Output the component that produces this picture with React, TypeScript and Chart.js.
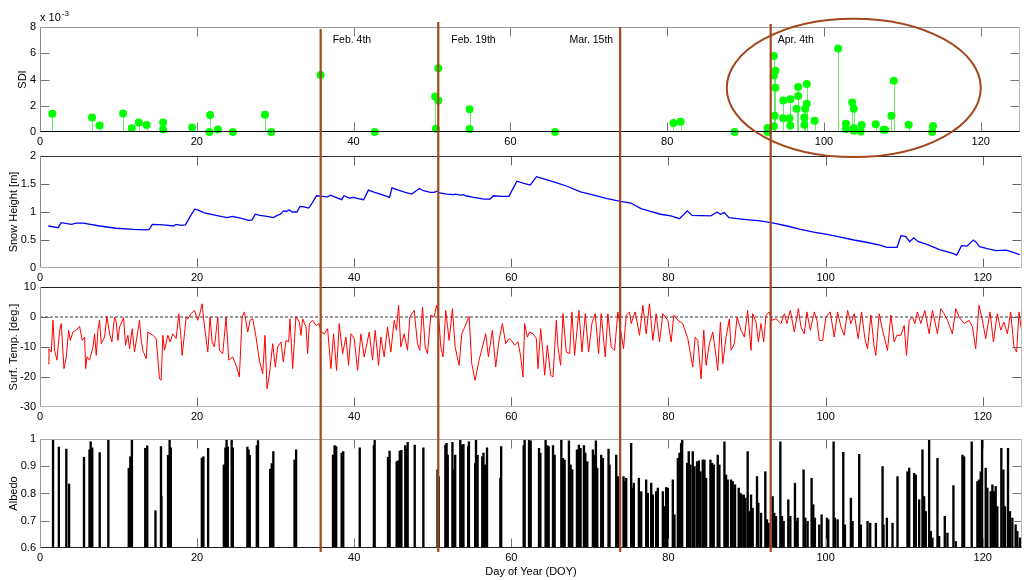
import React, { useEffect, useRef } from 'react';
import { Chart, registerables } from 'chart.js';
Chart.register(...registerables);

const FONT = "'Liberation Sans', Arial, Helvetica, sans-serif";

// ---------- axes ----------
const xTicks = [0, 20, 40, 60, 80, 100, 120];
const xMax = 125;
const sdiTicks = [0, 2, 4, 6, 8];
const snowTicks = [0, 0.5, 1, 1.5, 2];
const tempTicks = [-30, -20, -10, 0, 10];
const albedoTicks = [0.6, 0.7, 0.8, 0.9, 1];

// ---------- events ----------
const eventDays = [35.8, 50.8, 74.0, 93.2];
const eventLabels = ['Feb. 4th', 'Feb. 19th', 'Mar. 15th', 'Apr. 4th'];

// ---------- SDI (x 10^-3) ----------
const sdiDays = [1.57, 6.64, 7.6, 10.6, 11.7, 12.6, 13.6, 15.7, 15.7, 19.4, 21.7, 21.6, 22.7, 24.6, 28.7, 29.5, 35.8,
  42.7, 50.4, 50.8, 50.8, 50.5, 54.8, 54.8, 65.7, 80.8, 81.7, 88.6, 92.8, 92.8, 93.6, 93.8, 93.6, 93.8, 93.7, 93.6,
  94.8, 94.8, 95.7, 95.6, 95.7, 96.7, 96.7, 96.5, 97.8, 97.8, 97.6, 97.5, 97.5, 98.8, 101.8, 103.6, 103.8, 102.8, 102.8,
  103.8, 103.8, 104.8, 104.7, 106.6, 107.6, 107.8, 108.9, 108.6, 110.8, 113.9, 113.8];
const sdiValues = [1.39, 1.11, 0.5, 1.41, 0.28, 0.73, 0.53, 0.73, 0.2, 0.35, 1.29, 0.0, 0.2, 0.0, 1.31, 0.0, 4.34,
  0.0, 2.7, 2.4, 4.85, 0.25, 1.74, 0.23, 0.0, 0.68, 0.78, 0.0, 0.3, 0.0, 5.8, 4.67, 4.3, 3.38, 1.24, 0.43,
  2.4, 1.04, 2.5, 1.04, 0.5, 3.43, 2.75, 1.77, 3.66, 2.15, 1.77, 1.11, 0.56, 0.86, 6.36, 2.25, 1.77, 0.63, 0.23,
  0.28, 0.1, 0.53, 0.03, 0.6, 0.18, 0.15, 3.9, 1.24, 0.56, 0.45, 0.0];

// ---------- Snow height [m] ----------
const snowDays = [1.06, 2.3, 2.7, 4.0, 4.6, 5.5, 7.6, 9.7, 11.9, 13.6, 13.9, 14.3, 15.7, 17.0, 17.3, 18.0, 18.5, 19.2, 19.7,
  20.2, 20.8, 22.1, 23.8, 24.5, 25.5, 26.6, 27.0, 27.4, 28.0, 28.9, 29.7, 30.2, 30.6, 31.0, 31.4, 31.7, 32.1, 32.7, 33.1,
  33.6, 34.2, 34.6, 35.2, 35.9, 36.6, 37.0, 37.5, 38.4, 38.7, 39.4, 39.9, 40.5, 41.2, 41.8, 42.6, 43.7, 44.5, 44.8, 45.6,
  46.5, 47.3, 48.3, 48.8, 49.7, 50.2, 50.5, 50.9, 51.8, 52.6, 52.9, 53.5, 53.9, 54.2, 55.2, 56.5, 57.3, 57.7, 58.8, 59.7,
  60.1, 60.7, 61.6, 62.4, 63.2, 63.7, 65.4, 67.1, 68.8, 70.5, 72.2, 73.9, 75.2, 76.5, 77.7, 79.0, 80.3, 81.4, 82.4, 83.0,
  85.4, 86.2, 86.6, 87.1, 87.7, 89.6, 91.7, 93.4, 95.1, 96.8, 98.5, 100.2, 101.9, 103.6, 105.2, 106.9, 107.8, 109.1, 109.6,
  110.2, 110.7, 111.2, 111.8, 112.9, 114.5, 116.2, 116.7, 117.3, 118.0, 118.8, 119.1, 119.6, 120.7, 121.7, 123.0, 124.7];
const snowValues = [0.75, 0.72, 0.81, 0.78, 0.8, 0.8, 0.75, 0.71, 0.69, 0.68, 0.69, 0.78, 0.77, 0.75, 0.78, 0.76, 0.77, 0.94, 1.05,
  1.03, 0.99, 0.95, 0.9, 0.92, 0.89, 0.85, 0.86, 0.96, 0.94, 0.92, 0.9, 0.94, 0.96, 1.02, 1.01, 1.04, 1.0, 1.0, 1.1,
  1.09, 1.07, 1.15, 1.29, 1.28, 1.27, 1.3, 1.27, 1.22, 1.29, 1.25, 1.26, 1.24, 1.22, 1.39, 1.35, 1.3, 1.26, 1.43, 1.39,
  1.35, 1.32, 1.42, 1.38, 1.35, 1.35, 1.37, 1.34, 1.32, 1.31, 1.32, 1.3, 1.31, 1.29, 1.26, 1.23, 1.23, 1.29, 1.28, 1.28,
  1.39, 1.55, 1.51, 1.48, 1.63, 1.61, 1.54, 1.46, 1.36, 1.3, 1.24, 1.19, 1.16, 1.06, 1.01, 0.96, 0.93, 0.88, 1.02, 0.94,
  0.93, 1.0, 0.96, 0.99, 0.9, 0.87, 0.84, 0.8, 0.75, 0.69, 0.64, 0.6, 0.55, 0.5, 0.46, 0.41, 0.37, 0.37, 0.58,
  0.56, 0.47, 0.54, 0.47, 0.42, 0.33, 0.26, 0.23, 0.4, 0.39, 0.5, 0.47, 0.38, 0.34, 0.31, 0.32, 0.24];

// ---------- Surface temperature [deg.] ----------
const tempDays = [1.02, 1.14, 1.44, 1.65, 1.86, 2.16, 2.5, 2.71, 3.05, 3.35, 3.64, 3.86, 4.19, 4.62, 5.04, 5.38, 5.68, 5.81,
  5.97, 6.31, 6.74, 6.95, 7.16, 7.37, 7.58, 7.8, 8.22, 8.52, 8.86, 9.15, 9.49, 9.7, 9.92, 10.13, 10.64, 10.89, 11.19, 11.4,
  11.74, 12.03, 12.67, 12.88, 13.09, 13.52, 13.73, 14.36, 14.79, 15.21, 15.42, 15.64, 15.85, 16.27, 16.57, 16.91, 17.33,
  17.67, 17.97, 18.09, 18.39, 18.6, 18.81, 19.24, 19.66, 20.08, 20.3, 20.64, 20.8, 21.06, 21.36, 21.65, 21.91, 22.2, 22.63,
  22.84, 23.26, 23.69, 24.03, 24.53, 25.04, 25.38, 25.72, 26.02, 26.44, 26.74, 27.08, 27.5, 27.92, 28.35, 28.64, 28.9,
  29.19, 29.62, 29.96, 30.25, 30.68, 30.97, 31.31, 31.65, 31.82, 32.16, 32.58, 33.01, 33.22, 33.43, 33.86, 34.07, 34.28,
  34.7, 35.13, 35.55, 35.76, 36.19, 36.61, 37.03, 37.37, 37.75, 38.09, 38.52, 38.94, 39.28, 39.58, 40.0, 40.42, 40.85,
  41.27, 41.91, 42.33, 42.67, 43.09, 43.39, 43.81, 44.24, 44.66, 45.08, 45.38, 45.64, 45.93, 46.36, 46.78, 47.08, 47.63,
  48.05, 48.35, 48.69, 49.03, 49.32, 49.75, 50.17, 50.47, 50.72, 51.02, 51.31, 51.65, 52.08, 52.5, 52.84, 53.35, 53.69,
  53.98, 54.62, 54.96, 55.38, 55.89, 56.31, 56.74, 57.08, 57.58, 58.01, 58.43, 58.86, 59.28, 59.7,
  60.0, 60.42, 60.85, 61.19, 61.48, 61.69, 62.03, 62.33, 62.75, 63.18, 63.39, 63.73, 64.03, 64.24, 64.58, 65.0, 65.3,
  65.72, 65.93, 66.27, 66.57, 66.99, 67.42, 67.71, 68.05, 68.6, 68.98, 69.41, 69.83, 70.25, 70.68, 71.1, 71.44, 71.95,
  72.29, 72.71, 73.14, 73.56, 73.98, 74.28, 74.62, 75.04, 75.25, 75.76, 76.31, 76.74, 77.16, 77.58, 78.01, 78.43, 78.86,
  79.28, 79.92, 80.34, 80.68, 81.19, 81.82, 82.46, 83.09, 83.39, 83.73, 84.15, 84.49, 84.79, 85.21, 85.64, 86.06, 86.27,
  86.61, 86.91, 87.33, 87.75, 87.97, 88.39, 88.73, 89.24, 89.66, 90.08, 90.51, 90.72, 91.14, 91.44, 91.78, 92.12, 92.42,
  92.84, 93.14, 93.69, 94.32, 94.75, 95.08, 95.51, 96.02, 96.53, 96.86, 97.29, 97.63, 98.05, 98.56, 98.9, 99.2, 99.62,
  100.04, 100.59, 101.1, 101.53, 101.95, 102.37, 102.8, 103.22, 103.64, 104.15, 104.58, 105.0, 105.34, 105.76, 106.19,
  106.4, 106.82, 107.25, 107.88, 108.31, 108.73, 109.07, 109.58, 110.0, 110.3, 110.64, 111.06, 111.36, 111.69, 112.12,
  112.63, 113.18, 113.6, 114.24, 114.66, 115.08, 115.51, 116.14, 116.57, 116.99, 117.63, 118.26, 118.69, 119.11, 119.53,
  119.96, 120.38, 120.93, 121.36, 121.86, 122.29, 122.71, 123.14, 123.56, 123.98, 124.32, 124.62, 125.0];
const tempValues = [-15.6, -10.6, -11.7, -1.1, -11.1, -14.4, -4.4, -2.2, -17.2, -13.3, -4.4, -7.8, -5.0, -4.4, -3.1, -7.8, -6.7, -17.2,
  -13.3, -14.4, -10.0, -5.6, -12.8, -4.4, -1.1, -8.9, -6.7, 0.2, -5.6, -8.3, 0.0, -1.7, -7.8, -3.3, -0.2, -9.4, -6.1, -10.6,
  -3.9, -11.7, -1.1, -7.8, -11.1, -13.9, -5.0, -6.1, -7.2, -20.6, -21.1, -6.1, -11.1, -6.1, -8.3, -5.6, -7.2,
  1.1, -7.8, -12.8, -5.6, 0.0, -0.6, 1.1, 2.2, -1.1, 0.6, 4.4, 0.0, -5.6, -11.7, 0.0, -8.3, -10.0, 0.0,
  -11.1, -12.2, 0.0, -14.4, -13.3, -16.7, -20.0, 0.0, 1.7, -5.0, -1.1, -0.6, -6.7, -14.4, -18.9, -6.1, -23.9,
  -19.4, -8.9, -16.7, -10.0, -8.3, -15.0, -7.8, -8.3, -0.6, -17.2, 0.2, -1.7, -6.1, -0.6, -3.3, -12.2, -2.2,
  -1.1, -2.8, -2.2, -5.0, -5.6, -3.9, -17.2, -5.6, -17.8, -2.2, -12.2, -6.7, -16.1, -5.6, -7.2, -17.8, -5.6,
  -13.3, -5.0, -14.4, -4.4, -16.1, -6.7, -13.3, -3.3, -11.7, -1.1, -4.4, 3.9, -10.0, -5.6, -11.1, 0.0, 2.2,
  -8.9, -11.1, 3.3, -10.0, -12.2, 0.6, 0.0, 3.9, 1.1, -10.0, -13.3, 2.2, -7.8, 2.8, -10.0, -16.1, -5.6,
  -3.9, 0.2, -15.6, -21.1, -14.4, -10.0, -5.6, -13.3, -4.4, -16.7, -7.8, -2.2, -8.9, -7.2,
  -7.8, -9.4, -8.3, -13.3, -20.0, -2.2, -6.7, -5.0, -5.6, -7.2, -17.2, -3.9, -12.2, -19.4, -9.4, -19.4, -20.0,
  -1.1, -10.0, -16.1, 1.1, -11.7, -12.2, 1.7, -12.8, 2.2, -11.7, 1.1, -11.7, -2.2, 1.1, -12.2, 1.1, -13.3,
  1.1, -10.0, -11.1, 1.7, -5.6, -10.6, 0.6, 1.7, -2.2, 1.7, -6.1, 3.9, -5.6, 4.4, -7.8, 1.1, -8.3,
  1.1, -1.1, -8.3, 0.6, -1.1, -2.2, -7.2, -16.7, -6.7, -7.8, -20.6, -4.4, -16.1, -8.9, -5.0, -13.3, -17.8,
  -1.7, -15.6, -6.7, -0.6, -11.1, -8.9, 0.0, -4.4, -6.7, 2.2, -11.1, 1.1, -1.7, -8.3, -2.2, -8.3, 0.6,
  1.7, -1.1, -0.6, -2.2, 1.1, -2.2, 2.2, -5.0, 2.8, -3.3, -5.6, 1.7, -4.4, 1.7, -1.1, -7.8, -7.8,
  0.0, 1.7, -6.7, 1.7, -3.3, -6.1, 2.2, -2.2, 1.1, -7.2, 1.7, -7.2, -10.6, 0.6, -10.0,
  -12.8, 1.1, -4.4, -11.1, 0.6, -8.3, -6.1, -6.1, -2.8, -12.8, -1.1, 0.0, -2.2, 1.7, -2.2,
  2.2, -5.6, 2.2, -5.6, 2.8, 1.1, -1.1, -5.6, 2.8, 0.0, -2.2, -1.1, -3.3, -10.6, 3.9,
  -1.1, -7.2, 1.7, -8.3, 1.1, -4.4, -1.7, -5.6, 1.7, -10.0, -11.7, 1.7, -5.6];
const zeroLineDays = [0, 125];

// ---------- Albedo ----------
const albedoDays = [1.66, 2.4, 3.35, 3.7, 5.6, 6.3, 6.45, 6.65, 7.6, 8.7, 11.3, 11.5, 11.7, 13.4, 13.65, 14.7, 15.4, 15.45,
  16.3, 16.5, 16.65, 20.6, 20.8, 21.4, 23.4, 23.6, 23.75, 23.9, 24.4, 24.55, 26.4, 26.55, 26.7, 27.6, 27.75, 29.3, 29.5,
  29.7, 32.4, 32.6, 37.3, 37.5, 37.7, 38.4, 38.6, 40.7, 42.5, 42.6, 44.3, 44.5, 45.4, 45.6, 45.8, 46.0, 46.5, 46.65,
  46.8, 47.7, 48.8, 50.6, 50.75, 51.6, 51.75, 51.9, 52.5, 52.65, 52.85, 53.5, 53.7, 53.9, 54.5, 54.6, 55.4, 55.5, 55.7,
  56.3, 56.45, 56.65, 56.8, 56.9, 58.6, 58.7,
  61.57, 61.69, 62.25, 62.46, 63.52, 63.69, 64.36, 64.58, 64.75, 65.3, 65.51, 66.36, 66.57, 66.78, 67.33, 67.54, 67.75,
  68.35, 68.6, 68.81, 69.24, 69.41, 69.66, 70.38, 70.59, 70.76, 70.93, 71.44, 71.65, 72.37, 72.5, 73.35, 73.56, 74.28,
  74.41, 74.62, 75.25, 75.47, 75.59, 76.23, 76.53, 77.16, 77.37, 77.8, 78.01, 78.43, 78.64, 79.28, 79.49, 79.7, 79.92,
  80.55, 80.76, 81.19, 81.4, 81.61, 81.74, 82.37, 82.58, 82.8, 83.09, 83.31, 83.64, 83.86, 84.07, 84.36, 84.58, 84.79,
  85.34, 85.55, 85.76, 86.27, 86.48, 87.12, 87.33, 87.54, 87.97, 88.18, 88.47, 88.94, 89.15, 89.32, 89.58, 89.79, 90.08,
  90.3, 90.51, 90.72, 91.27, 91.44, 91.78, 92.33, 92.54, 92.75, 93.26, 93.47, 93.69, 94.24, 94.45, 94.66, 95.25, 95.51,
  96.1, 96.31, 96.44, 97.2, 97.42, 97.71, 98.22, 98.43, 98.64, 99.19, 99.49, 100.17, 100.34, 101.02, 101.19, 101.53,
  102.25, 102.46, 103.22, 103.43, 104.28, 104.49, 105.34, 105.68, 106.4, 107.25, 107.37, 107.8, 108.52, 109.15, 110.42,
  110.64, 111.27, 111.48, 111.91, 112.33, 112.54, 112.75, 113.18, 113.39, 113.6, 114.24, 114.45, 115.17, 115.51, 116.27,
  116.57, 117.42, 117.63, 118.6, 119.32, 119.53, 119.75, 119.92, 120.38, 120.59, 121.02, 121.23, 121.44, 121.65, 121.86,
  122.37, 122.63, 122.84, 123.22, 123.47, 123.77, 124.19, 124.41, 124.75];
const albedoValues = [0.996, 0.97, 0.963, 0.835, 0.933, 0.96, 0.99, 0.968, 0.95, 1.0, 0.893, 0.935, 0.996, 0.966, 0.975, 0.737, 0.972, 0.79,
  0.94, 0.996, 0.968, 0.93, 0.935, 0.966, 0.905, 0.968, 0.996, 0.97, 1.0, 0.968, 0.97, 0.96, 0.94, 0.976, 0.994, 0.889, 0.91,
  0.954, 0.923, 0.96, 0.941, 0.976, 0.972, 0.948, 0.954, 0.968, 0.976, 0.996, 0.933, 0.956, 0.917, 0.92, 0.956, 0.958, 0.976, 0.96,
  0.988, 0.978, 0.968, 0.887, 0.862, 0.978, 0.984, 0.941, 0.988, 0.887, 0.941, 1.0, 0.978, 0.98, 0.972, 0.99, 0.91, 1.0, 0.94,
  0.935, 0.948, 0.905, 0.822, 0.968, 0.856, 0.972,
  0.976, 1.0, 1.0, 0.993, 0.966, 0.948, 1.0, 0.976, 0.972, 0.976, 0.941, 1.0, 0.929, 0.923, 0.993, 0.905, 0.887,
  0.96, 0.978, 0.966, 0.976, 0.948, 0.917, 0.96, 0.941, 0.993, 0.893, 0.941, 0.929, 0.963, 0.905, 0.941, 0.862, 0.862,
  0.844, 0.856, 0.984, 0.82, 0.838, 0.856, 0.807, 0.85, 0.801, 0.838, 0.795, 0.807, 0.82, 0.807, 0.752, 0.822, 0.82,
  0.85, 0.722, 0.929, 0.948, 0.984, 1.0, 0.911, 0.954, 0.905, 0.954, 0.899, 0.917, 0.92, 0.88, 0.923, 0.923, 0.856,
  0.923, 0.911, 0.905, 0.941, 0.905, 0.99, 0.868, 0.85, 0.85, 0.844, 0.832, 0.82, 0.801, 0.795, 0.795, 0.783, 0.954,
  0.734, 0.795, 0.746, 0.862, 0.765, 0.728, 0.88, 0.704, 0.691, 0.789, 0.728, 0.716, 0.99, 0.716, 0.698, 0.777, 0.716,
  0.838, 0.698, 0.71, 0.887, 0.71, 0.698, 0.856, 0.759, 0.71, 0.685, 0.722, 0.71, 0.704, 0.99, 0.71, 0.704,
  0.951, 0.685, 0.783, 0.698, 0.944, 0.685, 0.698, 0.691, 0.691, 0.899, 0.685, 0.71, 0.691, 0.862, 0.88,
  0.893, 0.874, 0.868, 0.777, 0.96, 0.789, 0.734, 1.0, 0.661, 0.637, 0.929, 0.643, 0.716, 0.655, 0.829,
  0.624, 0.941, 0.935, 0.99, 0.844, 0.85, 0.88, 1.0, 0.893, 0.82, 0.807, 0.832, 0.807, 0.826, 0.752,
  0.966, 0.887, 0.752, 0.966, 0.734, 0.71, 0.685, 0.661, 0.637];

// ---------- helpers ----------
const pts = (xs: number[], ys: number[]) => xs.map((x, i) => ({ x, y: ys[i] }));
const BROWN = '#A4471C';
const PAD_TOP = 24;
const PLOT_LEFT = 40;
const PAD_RIGHT = 2;

type Panel = {
  plotTop: number; plotBottom: number; xAxisH: number;
  yTicks: number[]; yTitle: string; yTitlePad: number; xTitle?: string;
  frame: { top: string; bottom: string; left: string; right: string; tick: string };
};

const panels: Panel[] = [
  { plotTop: 27, plotBottom: 132, xAxisH: 20, yTicks: sdiTicks, yTitle: 'SDI', yTitlePad: 16,
    frame: { top: '#999', bottom: '#000', left: '#888', right: '#bbb', tick: '#777' } },
  { plotTop: 156, plotBottom: 268, xAxisH: 19, yTicks: snowTicks, yTitle: 'Snow Height [m]', yTitlePad: 7,
    frame: { top: '#333', bottom: '#aaa', left: '#888', right: '#bbb', tick: '#666' } },
  { plotTop: 287, plotBottom: 407, xAxisH: 20, yTicks: tempTicks, yTitle: 'Surf. Temp. [deg.]', yTitlePad: 7,
    frame: { top: '#222', bottom: '#bbb', left: '#999', right: '#bbb', tick: '#666' } },
  { plotTop: 439, plotBottom: 548, xAxisH: 32, yTicks: albedoTicks, yTitle: 'Albedo', yTitlePad: 7, xTitle: 'Day of Year (DOY)',
    frame: { top: '#aaa', bottom: '#222', left: '#999', right: '#bbb', tick: '#777' } },
];
const canvasTop = (p: Panel) => p.plotTop - PAD_TOP;
const canvasH = (p: Panel) => PAD_TOP + (p.plotBottom - p.plotTop) + p.xAxisH;

function framePlugin(p: Panel, extra?: { before?: (c: any) => void; after?: (c: any) => void }) {
  return {
    id: 'frame',
    beforeDatasetsDraw(chart: any) { if (extra && extra.before) extra.before(chart); },
    afterDatasetsDraw(chart: any) {
      const { ctx, chartArea: a, scales } = chart;
      const xs = scales.x, ys = scales.y;
      ctx.save();
      ctx.lineWidth = 1;
      const line = (x1: number, y1: number, x2: number, y2: number, c: string) => {
        ctx.strokeStyle = c; ctx.beginPath(); ctx.moveTo(x1, y1); ctx.lineTo(x2, y2); ctx.stroke();
      };
      const L = Math.round(a.left) + 0.5, R = Math.round(a.right) - 0.5;
      const T = Math.round(a.top) + 0.5, B = Math.round(a.bottom) - 0.5;
      const TL = 9;
      xTicks.forEach((v) => {
        if (v === 0) return;
        const px = Math.round(xs.getPixelForValue(v)) + 0.5;
        line(px, B, px, B - TL, p.frame.tick);
        line(px, T, px, T + TL, p.frame.tick);
      });
      p.yTicks.forEach((v, i) => {
        if (i === 0 || i === p.yTicks.length - 1) return;
        const py = Math.round(ys.getPixelForValue(v)) + 0.5;
        line(L, py, L + TL, py, p.frame.tick);
        line(R, py, R - TL, py, p.frame.tick);
      });
      line(L, T, R, T, p.frame.top);
      line(L, T, L, B, p.frame.left);
      line(R, T, R, B, p.frame.right);
      line(L, B, R, B, p.frame.bottom);
      ctx.restore();
      if (extra && extra.after) extra.after(chart);
    },
  };
}

function baseOptions(p: Panel) {
  const last = p.yTicks.length - 1;
  return {
    responsive: false, animation: false, devicePixelRatio: 1, events: [],
    layout: { padding: { top: PAD_TOP, right: PAD_RIGHT, bottom: 0, left: 0 } },
    plugins: { legend: { display: false }, tooltip: { enabled: false } },
    scales: {
      x: {
        type: 'linear', min: 0, max: xMax, offset: false,
        grid: { display: false, drawTicks: false }, border: { display: false },
        afterBuildTicks: (s: any) => { s.ticks = xTicks.map((v) => ({ value: v })); },
        afterFit: (s: any) => { s.height = p.xAxisH; },
        ticks: { autoSkip: false, maxRotation: 0, minRotation: 0, padding: 3, color: '#000',
          font: { family: FONT, size: 11 }, callback: (v: any) => String(v) },
        title: p.xTitle
          ? { display: true, text: p.xTitle, color: '#000', font: { family: FONT, size: 11 }, padding: { top: 0, bottom: 1 } }
          : { display: false },
      },
      y: {
        type: 'linear', min: p.yTicks[0], max: p.yTicks[last],
        grid: { display: false, drawTicks: false }, border: { display: false },
        afterBuildTicks: (s: any) => { s.ticks = p.yTicks.map((v) => ({ value: v })); },
        afterFit: (s: any) => { s.width = PLOT_LEFT; },
        ticks: { padding: 4, color: '#000', font: { family: FONT, size: 11 },
          callback: (v: any) => String(Math.round(v * 100) / 100) },
        title: { display: true, text: p.yTitle, color: '#000', font: { family: FONT, size: 11 },
          padding: { top: p.yTitlePad, bottom: 0 } },
      },
    },
  };
}

function buildConfigs(): any[] {
  const [p1, p2, p3, p4] = panels;

  const sdiPlugin = framePlugin(p1, {
    before: (chart: any) => {
      const { ctx, scales } = chart;
      const meta = chart.getDatasetMeta(0);
      const y0 = scales.y.getPixelForValue(0);
      ctx.save();
      ctx.strokeStyle = '#6CEB6C';
      ctx.lineWidth = 1;
      meta.data.forEach((el: any) => {
        ctx.beginPath();
        ctx.moveTo(Math.round(el.x) + 0.5, y0);
        ctx.lineTo(Math.round(el.x) + 0.5, el.y);
        ctx.stroke();
      });
      ctx.restore();
    },
    after: (chart: any) => {
      const { ctx, chartArea: a } = chart;
      ctx.save();
      ctx.fillStyle = '#000';
      ctx.textBaseline = 'alphabetic';
      ctx.font = `11px ${FONT}`;
      ctx.fillText('x 10', a.left, a.top - 6);
      const w = ctx.measureText('x 10').width;
      ctx.font = `8px ${FONT}`;
      ctx.fillText('-3', a.left + w + 1, a.top - 11);
      ctx.restore();
    },
  });

  const c1 = {
    type: 'scatter',
    data: { datasets: [{ data: pts(sdiDays, sdiValues), pointRadius: 4, pointBackgroundColor: '#00FF00',
      pointBorderColor: '#00FF00', pointBorderWidth: 0, showLine: false, clip: false }] },
    options: baseOptions(p1),
    plugins: [sdiPlugin],
  };
  const c2 = {
    type: 'line',
    data: { datasets: [{ data: pts(snowDays, snowValues), borderColor: '#0000FF', borderWidth: 1.3, pointRadius: 0, tension: 0 }] },
    options: baseOptions(p2),
    plugins: [framePlugin(p2)],
  };
  const c3 = {
    type: 'line',
    data: { datasets: [
      { data: pts(tempDays, tempValues), borderColor: '#FF0000', borderWidth: 1, pointRadius: 0, tension: 0, order: 0 },
      { data: pts(zeroLineDays, [0, 0]), borderColor: '#000', borderWidth: 0.8, borderDash: [3, 2], pointRadius: 0, order: 1 },
    ] },
    options: baseOptions(p3),
    plugins: [framePlugin(p3)],
  };
  const c4 = {
    type: 'bar',
    data: { datasets: [{ data: pts(albedoDays, albedoValues), backgroundColor: '#000', borderWidth: 0,
      barThickness: 1.7, grouped: false }] },
    options: baseOptions(p4),
    plugins: [framePlugin(p4)],
  };
  return [c1, c2, c3, c4];
}

function drawOverlay(ov: HTMLCanvasElement, charts: any[]) {
  const ctx = ov.getContext('2d')!;
  ctx.clearRect(0, 0, ov.width, ov.height);
  const c1 = charts[0];
  const xs = c1.scales.x, ys = c1.scales.y;
  const off1 = canvasTop(panels[0]);

  // ellipse around the April cluster (center day 103.8, SDI 3.36; half-widths 16.2 days, 5.27 units)
  const cx = xs.getPixelForValue(103.8);
  const cy = off1 + ys.getPixelForValue(3.36);
  const rx = xs.getPixelForValue(103.8 + 16.2) - cx;
  const ry = cy - (off1 + ys.getPixelForValue(3.36 + 5.27));
  ctx.save();
  ctx.strokeStyle = BROWN;
  ctx.lineWidth = 2;
  ctx.beginPath();
  ctx.ellipse(cx, cy, rx, ry, 0, 0, Math.PI * 2);
  ctx.stroke();

  // event lines
  const lastPanel = panels[3];
  const lineTops = [29, 22, 27, 24];
  const lineBottom = lastPanel.plotBottom + 4;
  ctx.lineWidth = 2.2;
  eventDays.forEach((d, i) => {
    const px = xs.getPixelForValue(d);
    ctx.beginPath();
    ctx.moveTo(px, lineTops[i]);
    ctx.lineTo(px, lineBottom);
    ctx.stroke();
  });

  // event labels
  const labelOffsets = [12, 13, -7, 7];
  const labelY = off1 + ys.getPixelForValue(7.0);
  ctx.fillStyle = '#000';
  ctx.font = `10.5px ${FONT}`;
  ctx.textBaseline = 'middle';
  eventDays.forEach((d, i) => {
    const px = xs.getPixelForValue(d);
    ctx.textAlign = labelOffsets[i] < 0 ? 'right' : 'left';
    ctx.fillText(eventLabels[i], px + labelOffsets[i], labelY);
  });
  ctx.restore();
}

export default function App() {
  const canvases = useRef<(HTMLCanvasElement | null)[]>([]);
  const overlay = useRef<HTMLCanvasElement | null>(null);

  useEffect(() => {
    const configs = buildConfigs();
    const charts = configs.map((cfg, i) => new Chart(canvases.current[i] as HTMLCanvasElement, cfg));
    if (overlay.current) drawOverlay(overlay.current, charts);
    return () => charts.forEach((c) => c.destroy());
  }, []);

  return (
    <div style={{ position: 'absolute', left: 0, top: 0, width: 1024, height: 580, overflow: 'hidden', background: '#fff' }}>
      {panels.map((p, i) => (
        <canvas
          key={i}
          ref={(el) => { canvases.current[i] = el; }}
          width={1024}
          height={canvasH(p)}
          style={{ position: 'absolute', left: 0, top: canvasTop(p), width: 1024, height: canvasH(p) }}
        />
      ))}
      <canvas
        ref={overlay}
        width={1024}
        height={580}
        style={{ position: 'absolute', left: 0, top: 0, width: 1024, height: 580, pointerEvents: 'none' }}
      />
    </div>
  );
}
